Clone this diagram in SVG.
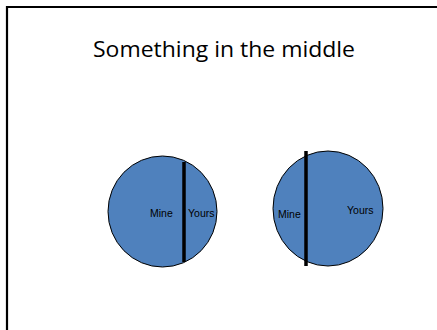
<svg xmlns="http://www.w3.org/2000/svg" width="437" height="330" viewBox="0 0 437 330">
<style>
.pie{fill:#4f81bd;stroke:#000;stroke-width:1}
.div{stroke:#000;stroke-width:3.5}
.lbl{font-family:"Liberation Sans",Arial,sans-serif;font-size:10.5px;fill:#000}
.title{font-family:"Open Sans","Noto Sans",sans-serif;font-size:22px;fill:#000}
</style>
<rect width="437" height="330" fill="#fff"/>
<path d="M7,330 V7 H437" fill="none" stroke="#000" stroke-width="2.2"/>
<text class="title" x="224" y="57" text-anchor="middle" textLength="262" lengthAdjust="spacingAndGlyphs">Something in the middle</text>
<g id="pie1">
<ellipse class="pie" cx="162.5" cy="211.5" rx="54.5" ry="55.5"/>
<text class="lbl" x="150" y="217">Mine</text>
<text class="lbl" x="188" y="217">Yours</text>
</g>
<g id="pie2">
<ellipse class="pie" cx="328" cy="208.5" rx="55" ry="57.5"/>
<text class="lbl" x="278" y="218">Mine</text>
<text class="lbl" x="347" y="214">Yours</text>
</g>
<g id="connectors">
<line class="div" x1="184" y1="162" x2="184" y2="262"/>
<line class="div" x1="306" y1="151" x2="306" y2="266"/>
</g>
</svg>
